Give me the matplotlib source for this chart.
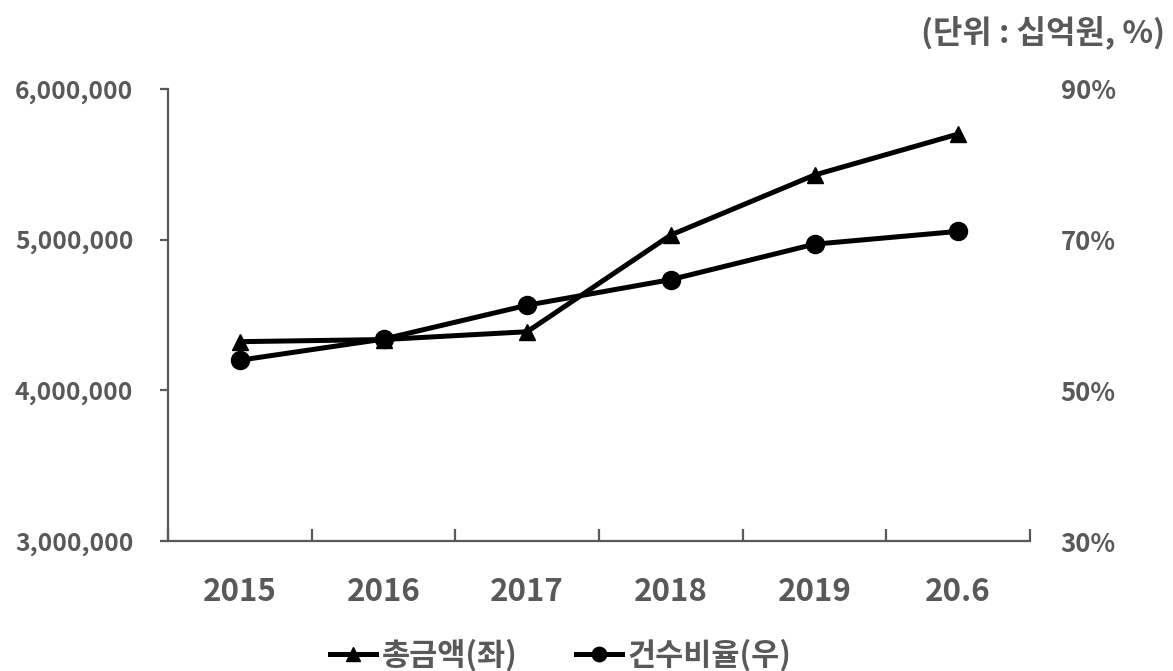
import matplotlib
matplotlib.use("Agg")
import matplotlib.pyplot as plt
from matplotlib.ticker import FuncFormatter, FixedLocator

plt.rcParams['font.family'] = ['Noto Sans CJK KR', 'DejaVu Sans']

categories = ["2015", "2016", "2017", "2018", "2019", "20.6"]
total_amount = [4323000, 4337000, 4389000, 5031000, 5429000, 5701000]
count_ratio = [54.0, 56.8, 61.3, 64.7, 69.4, 71.1]
left_ticks = [3000000, 4000000, 5000000, 6000000]
right_ticks = [30, 50, 70, 90]
label_amount = "총금액(좌)"
label_ratio = "건수비율(우)"
unit_text = "(단위 : 십억원, %)"

GREY = "#595959"
W, H = 1173, 671
fig = plt.figure(figsize=(W / 100, H / 100), dpi=100)
ax = fig.add_axes([168 / W, 1 - 541 / H, (1030 - 168) / W, (541 - 89) / H])
ax2 = ax.twinx()

x = list(range(len(categories)))
l1, = ax.plot(x, total_amount, color="black", lw=3.6, marker="^", ms=12,
              label=label_amount, zorder=3)
l2, = ax2.plot(x, count_ratio, color="black", lw=3.6, marker="o", ms=13,
               label=label_ratio, zorder=3)

ax.set_xlim(-0.5, len(categories) - 0.5)
ax.set_ylim(3000000, 6000000)
ax2.set_ylim(30, 90)

ax.set_yticks(left_ticks)
ax.yaxis.set_major_formatter(FuncFormatter(lambda v, p: f"{int(v):,}"))
ax2.set_yticks(right_ticks)
ax2.yaxis.set_major_formatter(FuncFormatter(lambda v, p: f"{int(v)}%"))

ax.set_xticks(x)
ax.set_xticklabels(categories)
ax.xaxis.set_minor_locator(FixedLocator([i - 0.5 for i in range(len(categories) + 1)]))

for a in (ax, ax2):
    for s in ("top", "right"):
        a.spines[s].set_visible(False)
ax2.spines["left"].set_visible(False)
ax2.spines["bottom"].set_visible(False)
for s in ("left", "bottom"):
    ax.spines[s].set_color(GREY)
    ax.spines[s].set_linewidth(1.6)

ax.tick_params(axis="y", direction="out", length=6, width=1.6, color=GREY,
               pad=19, labelsize=17.8, labelcolor=GREY)
ax.tick_params(axis="x", which="major", length=0, pad=25, labelsize=22.5,
               labelcolor=GREY)
ax.tick_params(axis="x", which="minor", direction="in", length=9, width=1.6,
               color=GREY)
ax2.tick_params(axis="y", length=0, pad=22, labelsize=18.5, labelcolor=GREY)

for lab in ax.get_yticklabels() + ax.get_xticklabels() + ax2.get_yticklabels():
    lab.set_fontweight("bold")

leg = fig.legend(handles=[l1, l2], loc="center", bbox_to_anchor=(561 / W, 1 - 655 / H),
                 ncol=2, frameon=False, fontsize=22, handlelength=1.5,
                 handletextpad=0.2, columnspacing=1.9, markerscale=0.8)
for t in leg.get_texts():
    t.set_color(GREY)
    t.set_fontweight("bold")

fig.text(1165 / W, 1 - 32 / H, unit_text, ha="right", va="center",
         fontsize=23, fontweight="bold", color=GREY)

fig.savefig("out.png", dpi=100, facecolor="white")
